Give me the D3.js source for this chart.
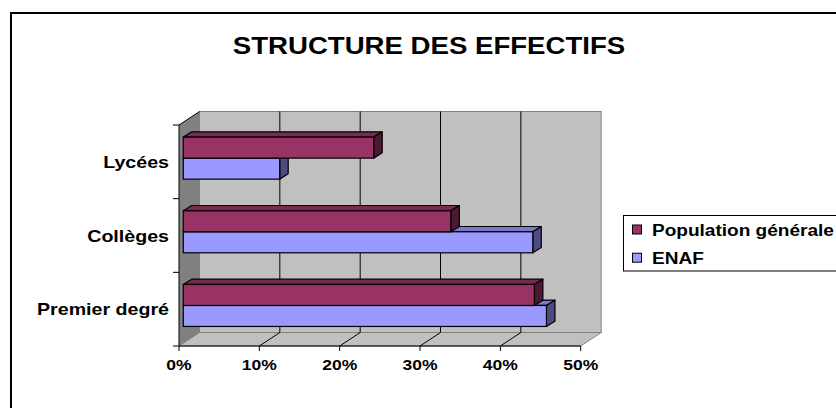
<!DOCTYPE html>
<html><head><meta charset="utf-8">
<script src="https://cdn.jsdelivr.net/npm/d3@7"></script>
<style>html,body{margin:0;padding:0;background:#fff;overflow:hidden}svg{display:block}text{font-family:"Liberation Sans",Arial,sans-serif;font-weight:bold;fill:#000}</style>
</head><body><svg id="c" width="836" height="408"></svg>
<script>
const title = "STRUCTURE DES EFFECTIFS";
const categories = ["Lycées", "Collèges", "Premier degré"];
const seriesNames = ["Population générale", "ENAF"];
const populationGenerale = [0.237, 0.333, 0.437];
const enaf = [0.12, 0.435, 0.452];
const xTicks = [0, 0.1, 0.2, 0.3, 0.4, 0.5];
const xTickLabels = ["0%", "10%", "20%", "30%", "40%", "50%"];
const colors = {"Population générale": ["#993366", "#7a2952", "#4c1933"], "ENAF": ["#9999ff", "#7a7acc", "#4c4c80"]};

const svg = d3.select("#c");
const X0 = 179, X1 = 580.7, YT = 125, YB = 346;
const DX = 20.5, DY = -13.5;          // wall depth
const BDX = 4.3, BDY = -3.7;          // bar front depth offset
const BW = 8.5, BH = -5.3;            // bar depth
const x = d3.scaleLinear().domain([0, 0.5]).range([X0, X1]);
const y = d3.scaleBand().domain(categories).range([YT, YB]);
const ys = d3.scaleBand().domain(seriesNames).range([0, y.bandwidth()]).paddingInner(0).paddingOuter(0.754);

// outer border
svg.append("rect").attr("x", 11).attr("y", 13).attr("width", 900).attr("height", 500)
  .attr("fill", "#fff").attr("stroke", "#000").attr("stroke-width", 2);

// title
svg.append("text").attr("transform", "translate(429,54) scale(1.2,1)")
  .attr("text-anchor", "middle").style("font-size", "23px").text(title);

const line = d3.line();
// back wall
svg.append("rect").attr("x", X0 + DX).attr("y", YT + DY).attr("width", X1 - X0).attr("height", YB - YT)
  .attr("fill", "#c0c0c0").attr("stroke", "#808080");
// left wall
svg.append("path").attr("d", line([[X0, YT], [X0 + DX, YT + DY], [X0 + DX, YB + DY], [X0, YB]]) + "Z")
  .attr("fill", "#808080").attr("stroke", "none");
svg.append("path").attr("d", line([[X0, YT], [X0 + DX, YT + DY]])).attr("stroke", "#000").attr("fill", "none");
// floor
svg.append("path").attr("d", line([[X0, YB], [X1, YB], [X1 + DX, YB + DY], [X0 + DX, YB + DY]]) + "Z")
  .attr("fill", "#c0c0c0").attr("stroke", "#808080");

// gridlines
const grid = xTicks.filter(v => v > 0 && v < 0.5);
svg.selectAll(".gw").data(grid).join("line")
  .attr("x1", d => x(d) + DX).attr("x2", d => x(d) + DX).attr("y1", YT + DY).attr("y2", YB + DY)
  .attr("stroke", "#000");
svg.selectAll(".gf").data(grid).join("line")
  .attr("x1", d => x(d)).attr("x2", d => x(d) + DX).attr("y1", YB).attr("y2", YB + DY)
  .attr("stroke", "#000");

// axes
svg.append("line").attr("x1", X0).attr("x2", X0).attr("y1", YT).attr("y2", YB).attr("stroke", "#000");
svg.append("line").attr("x1", X0).attr("x2", X1).attr("y1", YB).attr("y2", YB).attr("stroke", "#000");
const yBounds = categories.map(c => y(c)).concat([YB]);
svg.selectAll(".yt").data(yBounds).join("line")
  .attr("x1", X0 - 6).attr("x2", X0).attr("y1", d => d).attr("y2", d => d).attr("stroke", "#000");
svg.selectAll(".xt").data(xTicks).join("line")
  .attr("x1", d => x(d)).attr("x2", d => x(d)).attr("y1", YB).attr("y2", YB + 5).attr("stroke", "#000");
svg.selectAll(".xl").data(xTicks).join("text")
  .attr("transform", d => `translate(${x(d)},370) scale(1.25,1)`)
  .attr("text-anchor", "middle").style("font-size", "14px").text((d, i) => xTickLabels[i]);
svg.selectAll(".yl").data(categories).join("text")
  .attr("transform", d => `translate(169,${y(d) + y.bandwidth() / 2 + 6}) scale(1.19,1)`)
  .attr("text-anchor", "end").style("font-size", "16.5px").text(d => d);

// bars
const bars = [];
categories.forEach((c, i) => {
  bars.push({cat: c, s: "Population générale", v: populationGenerale[i]});
  bars.push({cat: c, s: "ENAF", v: enaf[i]});
});
// draw from bottom to top of screen
const order = bars.slice().sort((a, b) => (y(b.cat) + ys(b.s)) - (y(a.cat) + ys(a.s)));
const g = svg.append("g");
order.forEach(b => {
  const xl = x(0) + BDX, xr = x(b.v) + BDX;
  const yt = y(b.cat) + ys(b.s) + BDY, yb = yt + ys.bandwidth();
  const col = colors[b.s];
  g.append("path").attr("d", line([[xl, yt], [xl + BW, yt + BH], [xr + BW, yt + BH], [xr, yt]]) + "Z")
    .attr("fill", col[1]).attr("stroke", "#000").attr("stroke-width", 1.2).attr("stroke-linejoin", "round");
  g.append("path").attr("d", line([[xr, yt], [xr + BW, yt + BH], [xr + BW, yb + BH], [xr, yb]]) + "Z")
    .attr("fill", col[2]).attr("stroke", "#000").attr("stroke-width", 1.2).attr("stroke-linejoin", "round");
  g.append("rect").attr("x", xl).attr("y", yt).attr("width", xr - xl).attr("height", yb - yt)
    .attr("fill", col[0]).attr("stroke", "#000").attr("stroke-width", 1.2);
});

// legend
const lg = svg.append("g");
lg.append("rect").attr("x", 623.5).attr("y", 215.5).attr("width", 300).attr("height", 55.5)
  .attr("fill", "#fff").attr("stroke", "#000");
const ly = d3.scalePoint().domain(seriesNames).range([229.5, 257.7]);
lg.selectAll("rect.m").data(seriesNames).join("rect").attr("class", "m")
  .attr("x", 632.5).attr("y", d => ly(d) - 4.5).attr("width", 9).attr("height", 9)
  .attr("fill", d => colors[d][0]).attr("stroke", "#000");
lg.selectAll("text").data(seriesNames).join("text")
  .attr("transform", d => `translate(652,${ly(d) + 6}) scale(1.19,1)`)
  .style("font-size", "16px").text(d => d);
</script></body></html>
